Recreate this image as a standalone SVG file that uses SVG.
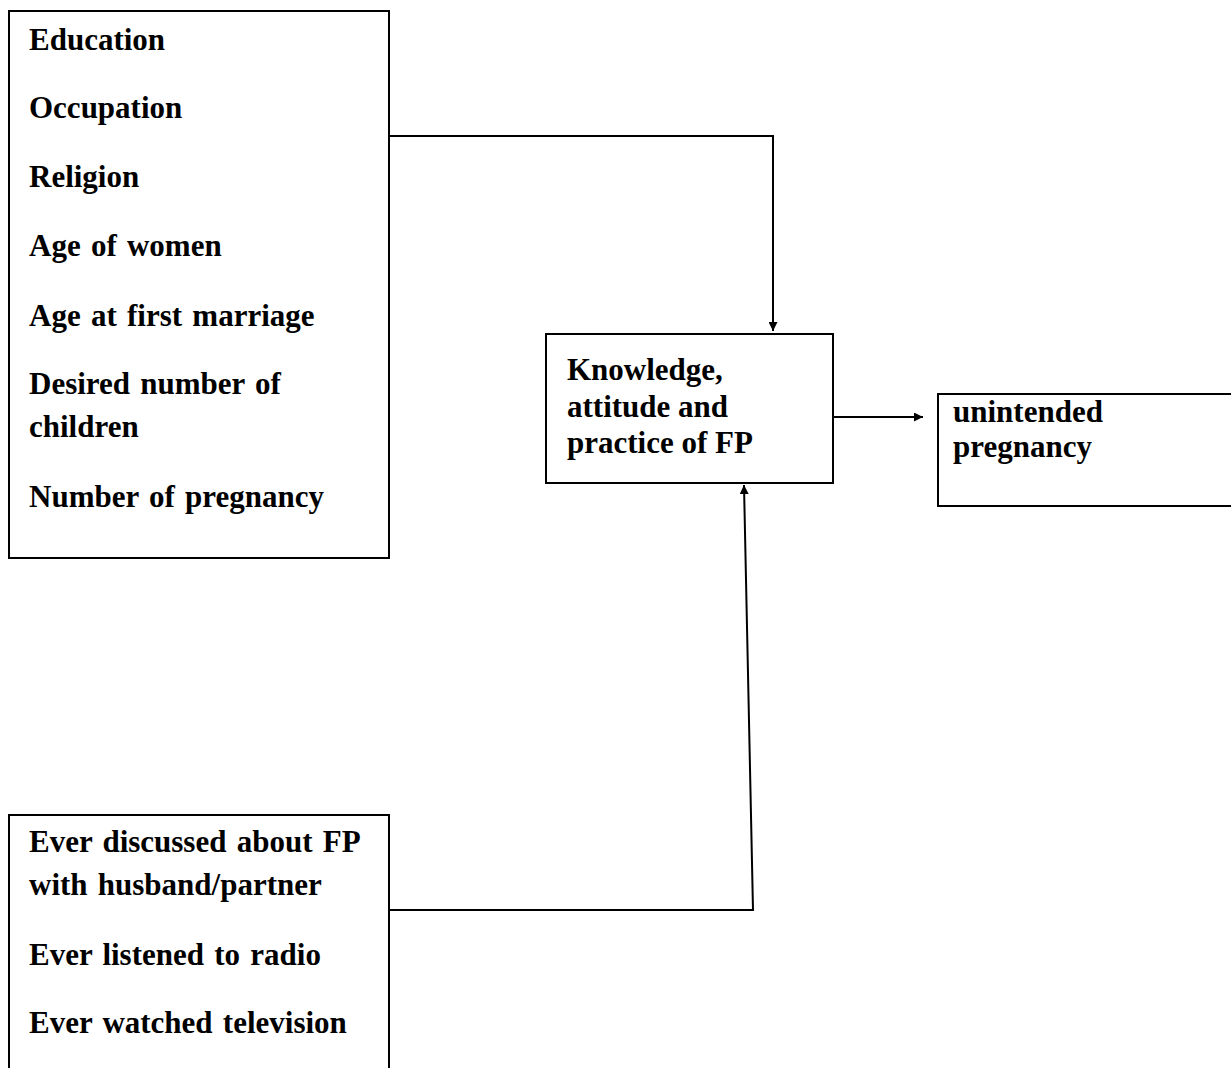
<svg xmlns="http://www.w3.org/2000/svg" width="1231" height="1068" viewBox="0 0 1231 1068">
<style>
.box{fill:#fff;stroke:#000;stroke-width:2}
.t{font-family:"Liberation Serif","Times New Roman",serif;font-weight:bold;font-size:31px;fill:#000}
.w{word-spacing:2.5px}
.c{fill:none;stroke:#000;stroke-width:2}
</style>
<defs>
<marker id="ah" viewBox="0 0 10 10" refX="10" refY="5" markerWidth="9" markerHeight="9" markerUnits="userSpaceOnUse" orient="auto">
<path d="M0,0 L10,5 L0,10 Z" fill="#000"/>
</marker>
</defs>
<rect width="1231" height="1068" fill="#fff"/>
<g id="connectors">
<polyline class="c" points="389,136 773,136 773,331" marker-end="url(#ah)"/>
<line class="c" x1="833" y1="417" x2="923" y2="417" marker-end="url(#ah)"/>
<polyline class="c" points="389,910 753,910 744,485" marker-end="url(#ah)"/>
</g>
<g id="factors">
<rect class="box" x="9" y="11" width="380" height="547"/>
<text class="t w" x="29" y="50">Education</text>
<text class="t w" x="29" y="118">Occupation</text>
<text class="t w" x="29" y="187">Religion</text>
<text class="t w" x="29" y="256">Age of women</text>
<text class="t w" x="29" y="326">Age at first marriage</text>
<text class="t w" x="29" y="394">Desired number of</text>
<text class="t w" x="29" y="437">children</text>
<text class="t w" x="29" y="507">Number of pregnancy</text>
</g>
<g id="kap">
<rect class="box" x="546" y="334" width="287" height="149"/>
<text class="t" x="567" y="380">Knowledge,</text>
<text class="t" x="567" y="417">attitude and</text>
<text class="t" x="567" y="453">practice of FP</text>
</g>
<g id="outcome">
<rect class="box" x="938" y="394" width="300" height="112"/>
<text class="t" x="953" y="422">unintended</text>
<text class="t" x="953" y="457">pregnancy</text>
</g>
<g id="media">
<rect class="box" x="9" y="815" width="380" height="270"/>
<text class="t w" x="29" y="852">Ever discussed about FP</text>
<text class="t w" x="29" y="895">with husband/partner</text>
<text class="t w" x="29" y="965">Ever listened to radio</text>
<text class="t w" x="29" y="1033">Ever watched television</text>
</g>
</svg>
